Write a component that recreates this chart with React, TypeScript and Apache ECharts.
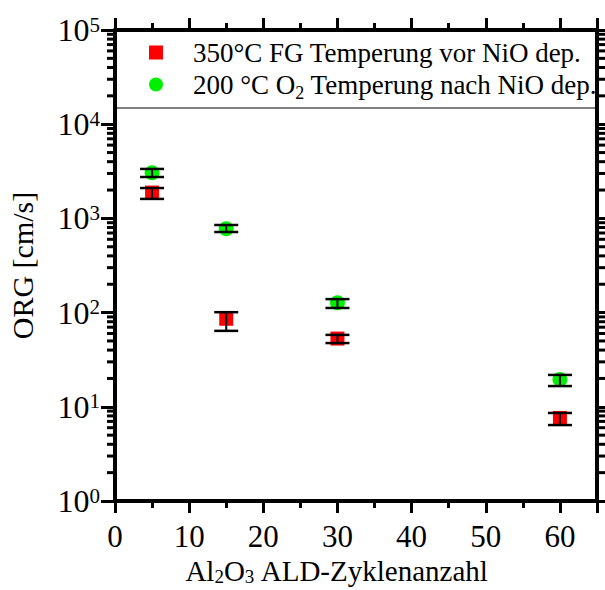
import React, { useEffect, useRef } from "react";
import * as echarts from "echarts";

const FONT = "'Liberation Serif', 'Times New Roman', serif";

const xValues = [5, 15, 30, 60];
const redName = "350°C FG Temperung vor NiO dep.";
const greenName = "200 °C O2 Temperung nach NiO dep.";
const redValues = [1880, 86, 53, 7.6];
const redLow = [1610, 64, 47.5, 6.4];
const redHigh = [2100, 101, 58, 8.6];
const greenValues = [3050, 775, 127, 19.5];
const greenLow = [2750, 717, 112, 16.6];
const greenHigh = [3350, 851, 139, 21.8];

const yDecades = [1, 10, 100, 1000, 10000, 100000];
const yMinorMultipliers = [2, 3, 4, 5, 6, 7, 8, 9];
const xMin = 0;
const xMax = 65;
const xInterval = 10;

export default function App() {
  const ref = useRef<HTMLDivElement>(null);
  useEffect(() => {
    if (!ref.current) return;
    const chart = echarts.init(ref.current, null, { renderer: "svg" });

    const minorVals: number[][] = [];
    yDecades.slice(0, -1).forEach((d) =>
      yMinorMultipliers.forEach((m) => minorVals.push([xMin, d * m]))
    );

    const errData = (vals: number[], lo: number[], hi: number[]) =>
      xValues.map((x, i) => [x, lo[i], hi[i], vals[i]]);

    const errorRender = (params: any, api: any) => {
      const x = api.value(0);
      const lo = api.coord([x, api.value(1)]);
      const hi = api.coord([x, api.value(2)]);
      const hw = 12;
      const st = { stroke: "#000", lineWidth: 2.5 };
      return {
        type: "group",
        children: [
          { type: "line", shape: { x1: lo[0], y1: lo[1], x2: hi[0], y2: hi[1] }, style: { stroke: "#000", lineWidth: 2 } },
          { type: "line", shape: { x1: lo[0] - hw, y1: lo[1], x2: lo[0] + hw, y2: lo[1] }, style: st },
          { type: "line", shape: { x1: hi[0] - hw, y1: hi[1], x2: hi[0] + hw, y2: hi[1] }, style: st },
        ],
      };
    };

    const minorRender = (params: any, api: any) => {
      const v = api.value(1);
      const l = api.coord([xMin, v]);
      const r = api.coord([xMax, v]);
      const st = { stroke: "#000", lineWidth: 3 };
      return {
        type: "group",
        children: [
          { type: "line", shape: { x1: l[0], y1: l[1], x2: l[0] - 8, y2: l[1] }, style: st },
          { type: "line", shape: { x1: r[0], y1: r[1], x2: r[0] + 8, y2: r[1] }, style: st },
        ],
      };
    };

    const axisLineStyle = { color: "#000", width: 4 };
    const xCommon = {
      type: "value",
      min: xMin,
      max: xMax,
      interval: xInterval,
      splitLine: { show: false },
      axisLine: { show: true, onZero: false, lineStyle: axisLineStyle },
      axisTick: { show: true, inside: false, length: 12, lineStyle: { color: "#000", width: 3 } },
      minorTick: { show: true, splitNumber: 2, length: 7, lineStyle: { color: "#000", width: 3 } },
    };
    const yCommon = {
      type: "log",
      logBase: 10,
      min: 1,
      max: 100000,
      splitLine: { show: false },
      axisLine: { show: true, onZero: false, lineStyle: axisLineStyle },
      axisTick: { show: true, inside: false, length: 14, lineStyle: { color: "#000", width: 3 } },
    };

    chart.setOption({
      animation: false,
      backgroundColor: "#fff",
      grid: { left: 115, right: 8, top: 30, bottom: 89, containLabel: false, outerBoundsMode: "none" },
      legend: {
        orient: "vertical",
        left: 144,
        top: 34,
        itemWidth: 14,
        itemHeight: 14,
        itemGap: 5,
        selectedMode: false,
        data: [
          { name: redName, icon: "rect" },
          { name: greenName, icon: "circle" },
        ],
        formatter: (name: string) =>
          name === greenName ? "200 °C O{sub|2} Temperung nach NiO dep." : name,
        textStyle: {
          fontFamily: FONT,
          fontSize: 27,
          color: "#000",
          padding: [0, 0, 0, 25],
          rich: { sub: { fontFamily: FONT, fontSize: 18, color: "#000", padding: [16, 0, 0, 0] } },
        },
      },
      graphic: [
        {
          type: "line",
          shape: { x1: 115, y1: 108, x2: 597, y2: 108 },
          style: { stroke: "#000", lineWidth: 1.2 },
          z: 5,
        },
      ],
      xAxis: [
        {
          ...xCommon,
          position: "bottom",
          name: "Al{sub|2}O{sub|3} ALD-Zyklenanzahl",
          nameLocation: "middle",
          nameGap: 52,
          nameTextStyle: {
            fontFamily: FONT,
            fontSize: 29,
            color: "#000",
            padding: [0, 38, 0, 0],
            rich: { sub: { fontFamily: FONT, fontSize: 19, color: "#000", padding: [10, 0, 0, 0] } },
          },
          axisLabel: {
            show: true,
            margin: 20,
            fontFamily: FONT,
            fontSize: 31,
            color: "#000",
            showMaxLabel: false,
          },
        },
        {
          ...xCommon,
          position: "top",
          axisLabel: { show: false },
        },
      ],
      yAxis: [
        {
          ...yCommon,
          position: "left",
          name: "ORG [cm/s]",
          nameLocation: "middle",
          nameGap: 78,
          nameTextStyle: { fontFamily: FONT, fontSize: 30, color: "#000" },
          axisLabel: {
            show: true,
            margin: 15,
            formatter: (v: number) => {
              const e = yDecades.indexOf(Math.round(v));
              return `{b|10}{s|${e < 0 ? Math.round(Math.log10(v)) : e}}`;
            },
            rich: {
              b: { fontFamily: FONT, fontSize: 32, lineHeight: 32, color: "#000" },
              s: { fontFamily: FONT, fontSize: 21, lineHeight: 21, color: "#000", verticalAlign: "top", padding: [0, 0, 26, 0] },
            },
          },
        },
        {
          ...yCommon,
          position: "right",
          axisLabel: { show: false },
        },
      ],
      series: [
        {
          name: redName,
          type: "scatter",
          symbol: "rect",
          symbolSize: 14,
          itemStyle: { color: "#ff0000", opacity: 1 },
          data: xValues.map((x, i) => [x, redValues[i]]),
          z: 2,
        },
        {
          name: greenName,
          type: "scatter",
          symbol: "circle",
          symbolSize: 15,
          itemStyle: { color: "#00f000", opacity: 1 },
          data: xValues.map((x, i) => [x, greenValues[i]]),
          z: 2,
        },
        {
          type: "custom",
          renderItem: errorRender,
          data: errData(redValues, redLow, redHigh),
          encode: { x: 0, y: [1, 2] },
          z: 3,
          silent: true,
        },
        {
          type: "custom",
          renderItem: errorRender,
          data: errData(greenValues, greenLow, greenHigh),
          encode: { x: 0, y: [1, 2] },
          z: 3,
          silent: true,
        },
        {
          type: "custom",
          renderItem: minorRender,
          data: minorVals,
          encode: { x: 0, y: 1 },
          clip: false,
          z: 3,
          silent: true,
        },
      ],
    });
    return () => chart.dispose();
  }, []);
  return (
    <div
      ref={ref}
      style={{ position: "fixed", left: 0, top: 0, width: 605, height: 590, background: "#fff" }}
    />
  );
}
